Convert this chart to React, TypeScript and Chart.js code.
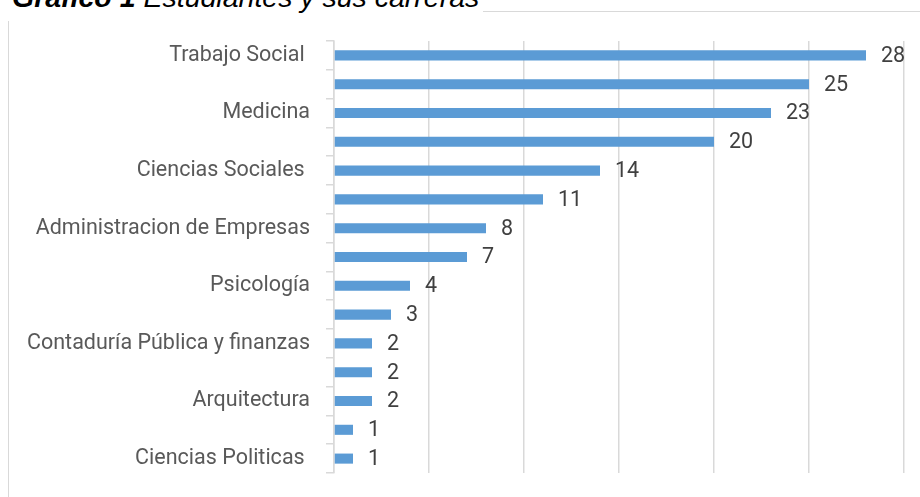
import React, { useEffect, useRef } from "react";
import { Chart, registerables } from "chart.js";

Chart.register(...registerables);

// Only every other category name is printed in the source picture; the rest are unreadable.
const categories: string[] = [
  "Trabajo Social ",
  "",
  "Medicina",
  "",
  "Ciencias Sociales ",
  "",
  "Administracion de Empresas",
  "",
  "Psicología",
  "",
  "Contaduría Pública y finanzas",
  "",
  "Arquitectura",
  "",
  "Ciencias Politicas ",
];
const values: number[] = [28, 25, 23, 20, 14, 11, 8, 7, 4, 3, 2, 2, 2, 1, 1];
const xMin = 0;
const xMax = 30;
const xStep = 5;
const titleBold = "Gráfico 1";
const titleRest = " Estudiantes y sus carreras";

const FONT = "Roboto";

const valueLabels = {
  id: "valueLabels",
  afterDatasetsDraw(chart: any) {
    const ctx = chart.ctx;
    const meta = chart.getDatasetMeta(0);
    ctx.save();
    ctx.font = `21.5px ${FONT}`;
    ctx.fillStyle = "#404040";
    ctx.textAlign = "left";
    ctx.textBaseline = "middle";
    meta.data.forEach((bar: any, i: number) => {
      ctx.fillText(String(values[i]), bar.x + 15, bar.y + 1);
    });
    ctx.restore();
  },
};

export default function App() {
  const ref = useRef<HTMLCanvasElement | null>(null);

  useEffect(() => {
    if (!ref.current) return;
    const chart = new Chart(ref.current, {
      type: "bar",
      data: {
        labels: categories,
        datasets: [
          {
            data: values,
            backgroundColor: "#5b9bd5",
            borderWidth: 0,
            barPercentage: 0.35,
            categoryPercentage: 1,
          },
        ],
      },
      options: {
        indexAxis: "y",
        responsive: false,
        animation: false,
        devicePixelRatio: 1,
        layout: { padding: { top: 41, right: 16, bottom: 24, left: 0 } },
        plugins: {
          legend: { display: false },
          tooltip: { enabled: false },
          title: { display: false },
        },
        scales: {
          x: {
            min: xMin,
            max: xMax,
            ticks: { display: false, stepSize: xStep },
            grid: { color: "#d9d9d9", lineWidth: 1.5, drawTicks: false },
            border: { display: false },
            afterFit: (s: any) => {
              s.height = 0;
            },
          },
          y: {
            ticks: {
              autoSkip: false,
              color: "#595959",
              font: { family: FONT, size: 21.5 },
              padding: 16,
            },
            grid: {
              drawOnChartArea: false,
              drawTicks: true,
              tickLength: 8,
              color: "#d9d9d9",
              lineWidth: 1.5,
              offset: true,
            },
            border: { display: true, color: "#d9d9d9", width: 1.5 },
            afterFit: (s: any) => {
              s.width = 334;
              s.paddingTop = 0;
              s.paddingBottom = 0;
            },
          },
        },
      },
      plugins: [valueLabels],
    });
    return () => chart.destroy();
  }, []);

  return (
    <div style={{ position: "absolute", left: 0, top: 0, width: 920, height: 497, overflow: "hidden", background: "#fff" }}>
      <div
        style={{
          position: "absolute",
          left: 8,
          top: 11,
          width: 930,
          height: 520,
          borderLeft: "1.5px solid #d9d9d9",
          borderTop: "1.5px solid #d9d9d9",
        }}
      />
      <canvas ref={ref} width={920} height={497} style={{ position: "absolute", left: 0, top: 0, width: 920, height: 497 }} />
      <div
        style={{
          position: "absolute",
          left: 0,
          top: -17,
          paddingLeft: 12,
          paddingRight: 4,
          paddingBottom: 10,
          background: "#fff",
          fontFamily: "'Liberation Sans', Arial, sans-serif",
          fontSize: 28.5,
          lineHeight: "28px",
          fontStyle: "italic",
          color: "#000",
          whiteSpace: "nowrap",
        }}
      >
        <b>{titleBold}</b>
        {titleRest}
      </div>
    </div>
  );
}
